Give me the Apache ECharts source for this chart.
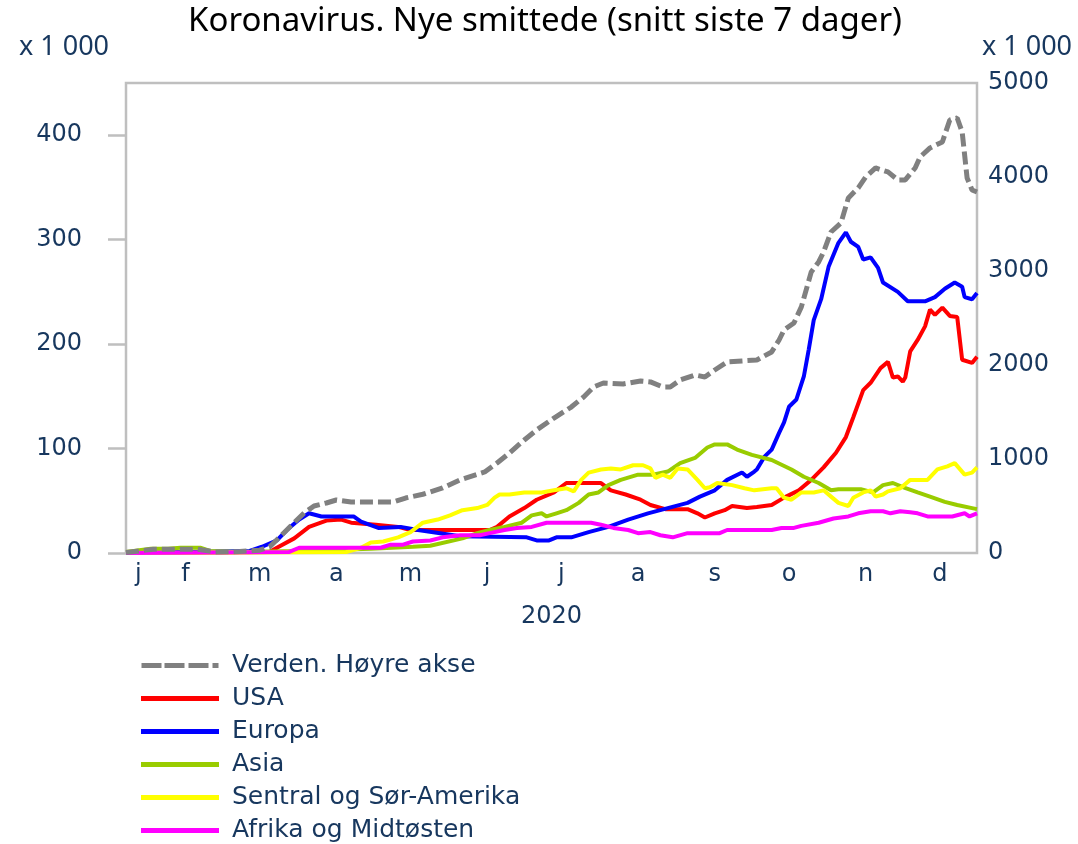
<!DOCTYPE html>
<html>
<head>
<meta charset="utf-8">
<script src="https://cdn.jsdelivr.net/npm/echarts@6/dist/echarts.min.js"></script>
<style>
  html, body { margin: 0; padding: 0; background: #fff; }
  #chart { width: 1078px; height: 844px; }
</style>
</head>
<body>
<div id="chart"></div>
<script>
// daglige kategorier 22. jan - 31. des 2020
var categories = [];
for (var t = Date.UTC(2020, 0, 22); t <= Date.UTC(2020, 11, 31); t += 86400000) {
    var dt = new Date(t);
    categories.push(('0' + (dt.getUTCMonth() + 1)).slice(-2) + '-' + ('0' + dt.getUTCDate()).slice(-2));
}
var monthLetters = ['j', 'f', 'm', 'a', 'm', 'j', 'j', 'a', 's', 'o', 'n', 'd'];
var leftTicks = [0, 100, 200, 300, 400];

// Verden, høyre akse (x 1 000)
var verden = [['01-22',5],['02-02',40],['02-20',40],['02-27',10],['03-08',15],['03-16',30],['03-20',64],['03-27',245],
    ['04-03',426],['04-07',500],['04-12',532],['04-16',564],['04-22',543],['04-29',543],['05-09',543],['05-14',585],
    ['05-21',625],['05-29',693],['06-05',777],['06-15',862],['06-20',958],['06-25',1064],['07-01',1202],['07-06',1309],
    ['07-13',1436],['07-20',1553],['07-25',1660],['07-29',1766],['08-02',1809],['08-10',1798],['08-17',1830],['08-21',1820],
    ['08-26',1766],['08-29',1766],['09-02',1840],['09-08',1894],['09-12',1873],['09-16',1947],['09-21',2032],['09-27',2043],
    ['10-03',2053],['10-09',2139],['10-12',2266],['10-14',2373],['10-18',2447],['10-21',2618],['10-25',2990],['10-28',3096],
    ['10-30',3203],['11-02',3415],['11-06',3511],['11-09',3777],['11-13',3884],['11-16',4001],['11-20',4096],['11-25',4054],
    ['11-29',3969],['12-02',3969],['12-06',4096],['12-08',4213],['12-12',4309],['12-17',4373],['12-20',4607],['12-23',4628],
    ['12-25',4479],['12-27',3990],['12-29',3862],['12-31',3840]];

var usa = [['01-22',0],['03-20',1],['03-23',5],['03-30',14],['04-05',25],['04-12',31],['04-18',32],['04-22',29],
    ['05-02',27],['05-11',25],['05-16',22],['06-17',22],['06-20',25],['06-25',35],['07-01',43],['07-06',51],
    ['07-13',58],['07-18',67],['08-01',67],['08-05',60],['08-11',56],['08-17',51],['08-21',46],['08-27',42],
    ['09-05',42],['09-09',38],['09-12',34],['09-16',38],['09-20',41],['09-23',45],['09-29',43],['10-03',44],
    ['10-09',46],['10-14',53],['10-20',60],['10-25',70],['10-30',82],['11-04',96],['11-08',111],['11-11',130],
    ['11-15',156],['11-18',163],['11-22',177],['11-25',183],['11-27',168],['11-29',169],['12-01',164],['12-02',168],
    ['12-04',193],['12-07',204],['12-10',217],['12-12',233],['12-14',228],['12-17',235],['12-20',227],['12-23',226],
    ['12-25',185],['12-29',182],['12-31',188]];

var europa = [['01-22',0],['03-12',2],['03-17',6],['03-23',12],['03-27',22],['04-01',32],['04-05',38],['04-10',35],
    ['04-23',35],['04-26',30],['05-03',24],['05-12',25],['05-19',22],['05-28',19],['06-05',16],['07-02',15],
    ['07-06',12],['07-11',12],['07-14',15],['07-20',15],['07-27',20],['08-04',25],['08-12',32],['08-20',38],
    ['08-28',43],['09-05',48],['09-10',54],['09-16',60],['09-21',70],['09-27',77],['09-29',73],['10-02',78],
    ['10-03',80],['10-06',92],['10-09',99],['10-12',115],['10-14',125],['10-16',140],['10-19',147],['10-22',169],
    ['10-24',195],['10-26',223],['10-29',243],['11-01',274],['11-05',297],['11-08',307],['11-10',298],['11-13',293],
    ['11-15',281],['11-18',283],['11-21',273],['11-23',259],['11-29',250],['12-03',241],['12-10',241],['12-14',245],
    ['12-18',253],['12-22',259],['12-25',255],['12-26',245],['12-29',243],['12-31',249]];

var asia = [['01-22',1],['02-01',4],['02-08',4],['02-13',5],['02-21',5],['02-25',2],['03-08',1],['04-01',2],
    ['04-30',4],['05-17',6],['05-24',7],['06-06',14],['06-12',19],['06-17',22],['06-23',25],['06-30',29],
    ['07-04',36],['07-08',38],['07-10',35],['07-14',38],['07-18',41],['07-23',48],['07-27',56],['07-31',58],
    ['08-04',65],['08-09',70],['08-16',75],['08-22',75],['08-28',78],['09-02',86],['09-08',91],['09-13',101],
    ['09-16',104],['09-21',104],['09-25',99],['10-01',94],['10-09',89],['10-17',80],['10-22',73],['10-28',67],
    ['11-02',60],['11-05',61],['11-14',61],['11-19',58],['11-23',65],['11-27',67],['12-01',63],['12-07',58],
    ['12-12',54],['12-18',49],['12-23',46],['12-29',43],['12-31',42]];

var amerika = [['01-22',0],['04-20',1],['04-26',5],['04-30',10],['05-05',11],['05-11',15],['05-16',20],['05-21',29],
    ['05-27',32],['06-01',36],['06-06',41],['06-12',43],['06-16',46],['06-19',53],['06-21',56],['06-25',56],
    ['07-01',58],['07-08',58],['07-13',60],['07-18',62],['07-21',59],['07-24',70],['07-27',77],['08-01',80],
    ['08-05',81],['08-09',80],['08-14',84],['08-18',84],['08-21',81],['08-23',72],['08-26',75],['08-29',72],
    ['09-01',81],['09-05',80],['09-09',70],['09-12',62],['09-14',63],['09-17',67],['09-23',65],['09-28',62],
    ['10-02',60],['10-09',62],['10-11',62],['10-14',53],['10-17',51],['10-21',58],['10-26',58],['10-30',60],
    ['11-02',54],['11-05',48],['11-09',45],['11-11',53],['11-15',58],['11-18',60],['11-20',54],['11-23',56],
    ['11-25',59],['11-30',62],['12-04',70],['12-11',70],['12-15',80],['12-19',83],['12-22',86],['12-26',75],
    ['12-29',77],['12-31',82]];

var afrika = [['01-22',0],['03-28',1],['04-01',5],['05-04',5],['05-08',8],['05-13',8],['05-17',11],['05-24',12],
    ['05-29',15],['06-05',17],['06-13',17],['06-17',19],['06-23',22],['06-28',24],['07-04',25],['07-10',29],
    ['07-28',29],['08-01',27],['08-06',24],['08-12',22],['08-16',19],['08-21',20],['08-25',17],['08-30',15],
    ['09-05',19],['09-18',19],['09-21',22],['10-09',22],['10-13',24],['10-18',24],['10-21',26],['10-28',29],
    ['11-03',33],['11-09',35],['11-13',38],['11-18',40],['11-23',40],['11-26',38],['11-30',40],['12-04',39],
    ['12-07',38],['12-11',35],['12-21',35],['12-26',38],['12-28',35],['12-31',38]];

// midten av hver måned for etikettene
var labelIdx = {};
var monthRange = {};
categories.forEach(function (c, i) {
    var m = parseInt(c.slice(0, 2), 10) - 1;
    if (!monthRange[m]) monthRange[m] = [i, i];
    monthRange[m][1] = i;
});
Object.keys(monthRange).forEach(function (m) {
    labelIdx[Math.round((monthRange[m][0] + monthRange[m][1]) / 2)] = monthLetters[m];
});

var navy = '#17375e';
var font = 'DejaVu Sans';
// stiplet ikon for verden i tegnforklaringen
var dashIcon = 'path://M0,0h20v5h-20z M23,0h20v5h-20z M47,0h20v5h-20z M71,0h6v5h-6z';

var myChart = echarts.init(document.getElementById('chart'));

function lineSeries(name, data, color, axis, width, dash) {
    return {
        name: name,
        type: 'line',
        data: data,
        yAxisIndex: axis,
        symbol: 'none',
        z: axis === 1 ? 4 : 2,
        lineStyle: { color: color, width: width, type: dash || 'solid' },
        itemStyle: { color: color }
    };
}

var option = {
    animation: false,
    backgroundColor: '#fff',
    graphic: [
        { type: 'text', x: 545, y: 22, style: { text: 'Koronavirus. Nye smittede (snitt siste 7 dager)', fill: '#000',
            font: '33px "Noto Sans"', textAlign: 'center', textVerticalAlign: 'middle' } },
        { type: 'text', x: 64, y: 47, style: { text: 'x 1 000', fill: navy,
            font: '27px "Noto Sans"', textAlign: 'center', textVerticalAlign: 'middle' } },
        { type: 'text', x: 1027, y: 47, style: { text: 'x 1 000', fill: navy,
            font: '27px "Noto Sans"', textAlign: 'center', textVerticalAlign: 'middle' } }
    ],
    grid: {
        left: 126, right: 101, top: 83, bottom: 291,
        show: true, borderColor: '#bfbfbf', borderWidth: 2.5
    },
    legend: {
        orient: 'vertical',
        left: 141,
        top: 653,
        height: 260,
        padding: 0,
        itemWidth: 78,
        itemHeight: 5,
        itemGap: 8,
        textStyle: { color: navy, fontFamily: font, fontSize: 25, lineHeight: 25, padding: [0, 0, 0, 8] },
        data: [
            { name: 'Verden. Høyre akse', icon: dashIcon },
            { name: 'USA', icon: 'rect' },
            { name: 'Europa', icon: 'rect' },
            { name: 'Asia', icon: 'rect' },
            { name: 'Sentral og Sør-Amerika', icon: 'rect' },
            { name: 'Afrika og Midtøsten', icon: 'rect' }
        ]
    },
    xAxis: {
        type: 'category',
        data: categories,
        boundaryGap: false,
        axisLine: { show: false },
        axisTick: { show: false },
        splitLine: { show: false },
        axisLabel: {
            interval: function (i) { return labelIdx[i] !== undefined; },
            formatter: function (v, i) { return labelIdx[i] || ''; },
            color: navy, fontFamily: font, fontSize: 24, margin: 10
        },
        name: '2020',
        nameLocation: 'middle',
        nameGap: 52,
        nameTextStyle: { color: navy, fontFamily: font, fontSize: 24 }
    },
    yAxis: [
        {
            type: 'value', min: 0, max: 450, interval: 100,
            axisLine: { show: false },
            axisTick: { show: true, length: 18, customValues: leftTicks, lineStyle: { color: '#bfbfbf', width: 2.5 } },
            splitLine: { show: false },
            axisLabel: { customValues: leftTicks, color: navy, fontFamily: font, fontSize: 24, margin: 44 }
        },
        {
            type: 'value', min: 0, max: 5000, interval: 1000,
            axisLine: { show: false },
            axisTick: { show: false },
            splitLine: { show: false },
            axisLabel: { color: navy, fontFamily: font, fontSize: 24, margin: 11,
                formatter: function (v) { return String(v); } }
        }
    ],
    series: [
        lineSeries('Verden. Høyre akse', verden, '#808080', 1, 5, [13, 5]),
        lineSeries('USA', usa, '#ff0000', 0, 4),
        lineSeries('Europa', europa, '#0000ff', 0, 4),
        lineSeries('Asia', asia, '#99cc00', 0, 4),
        lineSeries('Sentral og Sør-Amerika', amerika, '#ffff00', 0, 4),
        lineSeries('Afrika og Midtøsten', afrika, '#ff00ff', 0, 4)
    ]
};

myChart.setOption(option);

window.onresize = function () {
    myChart.resize();
};
</script>
</body>
</html>
